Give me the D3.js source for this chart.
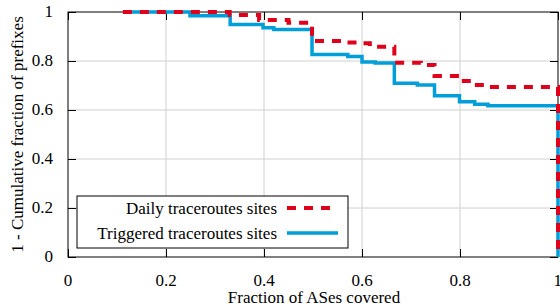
<!DOCTYPE html>
<html>
    <head>
        <meta charset="UTF-8"/>
        <style>
            body { margin: 0; background: #fff; }
        </style>
    </head>
    <body>
        <svg width="560" height="306"></svg>
        <script src="https://d3js.org/d3.v7.min.js" type="text/javascript"></script>
        <script>
            // step points (x = fraction of ASes, y = 1 - CDF)
            let dailyX = [0.112, 0.33, 0.39, 0.45, 0.498, 0.565, 0.596, 0.616, 0.666, 0.72, 0.748, 0.799, 0.83, 0.857, 1.0, 1.0];
            let dailyY = [1.0, 0.988, 0.967, 0.956, 0.882, 0.876, 0.872, 0.858, 0.793, 0.784, 0.739, 0.718, 0.702, 0.694, 0.694, 0];
            let trigX = [0.112, 0.249, 0.331, 0.398, 0.42, 0.498, 0.571, 0.6, 0.627, 0.666, 0.713, 0.748, 0.799, 0.83, 0.857, 1.0, 1.0];
            let trigY = [1.0, 0.985, 0.949, 0.936, 0.929, 0.827, 0.818, 0.796, 0.792, 0.709, 0.702, 0.658, 0.634, 0.623, 0.617, 0.617, 0];
            let xTicks = [0, 0.2, 0.4, 0.6, 0.8, 1];
            let yTicks = [0, 0.2, 0.4, 0.6, 0.8, 1];
            let seriesNames = ["Daily traceroutes sites", "Triggered traceroutes sites"];

            let fontFam = "'Times New Roman'";
            let fs = "17px";

            let svg = d3.select("svg"),
                margin = {left: 68, right: 2, top: 12, bottom: 49},
                width = +svg.attr("width") - margin.left - margin.right,
                height = +svg.attr("height") - margin.top - margin.bottom;

            let x = d3.scaleLinear().domain([0, 1]).range([0, width]);
            let y = d3.scaleLinear().domain([0, 1]).range([height, 0]);

            let g = svg.append("g").attr("transform", "translate(" + margin.left + "," + margin.top + ")");

            // grid
            g.selectAll(".gx").data(xTicks.slice(1, -1)).enter().append("line")
                .attr("x1", d => x(d)).attr("x2", d => x(d))
                .attr("y1", 0).attr("y2", height)
                .attr("stroke", "#d0d0d0").attr("stroke-width", 1);
            g.selectAll(".gy").data(yTicks.slice(1, -1)).enter().append("line")
                .attr("y1", d => y(d)).attr("y2", d => y(d))
                .attr("x1", 0).attr("x2", width)
                .attr("stroke", "#d0d0d0").attr("stroke-width", 1);

            // tick marks on all four sides, pointing inward
            let axBottom = g.append("g").attr("transform", "translate(0," + height + ")")
                .call(d3.axisBottom(x).tickValues(xTicks).tickFormat("").tickSizeInner(-8).tickSizeOuter(0));
            let axLeft = g.append("g")
                .call(d3.axisLeft(y).tickValues(yTicks).tickFormat("").tickSizeInner(-8).tickSizeOuter(0));
            let axTop = g.append("g")
                .call(d3.axisTop(x).tickValues(xTicks).tickFormat("").tickSizeInner(-8).tickSizeOuter(0));
            let axRight = g.append("g").attr("transform", "translate(" + width + ",0)")
                .call(d3.axisRight(y).tickValues(yTicks).tickFormat("").tickSizeInner(-8).tickSizeOuter(0));
            [axBottom, axLeft, axTop, axRight].forEach(a => {
                a.select(".domain").remove();
                a.selectAll("text").remove();
                a.selectAll("line").attr("stroke", "#000");
            });
            g.append("rect").attr("width", width).attr("height", height)
                .attr("fill", "none").attr("stroke", "#000").attr("stroke-width", 1);

            // tick labels as plain texts
            let fmt = d => d === 0 || d === 1 ? String(d) : d3.format(".1f")(d);
            g.selectAll(".xl").data(xTicks).enter().append("text")
                .attr("x", d => x(d) + (d === 1 ? 4 : 0)).attr("y", height + 29)
                .attr("text-anchor", d => d === 1 ? "end" : "middle")
                .style("font-family", fontFam).style("font-size", fs)
                .text(fmt);
            g.selectAll(".yl").data(yTicks).enter().append("text")
                .attr("x", -15).attr("y", d => y(d)).attr("dy", "0.32em")
                .attr("text-anchor", "end")
                .style("font-family", fontFam).style("font-size", fs)
                .text(fmt);

            // lines
            let line = d3.line().x(d => x(d[0])).y(d => y(d[1])).curve(d3.curveStepAfter);
            g.append("path").datum(d3.zip(trigX, trigY)).attr("d", line)
                .attr("fill", "none").attr("stroke", "#009fda").attr("stroke-width", 3.5);
            g.append("path").datum(d3.zip(dailyX, dailyY)).attr("d", line)
                .attr("fill", "none").attr("stroke", "#e0001b").attr("stroke-width", 4)
                .attr("stroke-dasharray", "9,8");

            // legend
            svg.append("rect").attr("x", 77).attr("y", 196).attr("width", 271).attr("height", 52)
                .attr("fill", "#fff").attr("stroke", "#000").attr("stroke-width", 1);
            let styles = [{c: "#e0001b", w: 4, dash: "9,8"}, {c: "#009fda", w: 3.5, dash: null}];
            seriesNames.forEach((name, i) => {
                let yy = 208 + i * 25;
                svg.append("text").attr("x", 277).attr("y", yy + 6)
                    .attr("text-anchor", "end")
                    .style("font-family", fontFam).style("font-size", fs).text(name);
                svg.append("line").attr("x1", 287).attr("x2", 338).attr("y1", yy).attr("y2", yy)
                    .attr("stroke", styles[i].c).attr("stroke-width", styles[i].w)
                    .attr("stroke-dasharray", styles[i].dash);
            });

            // axis titles
            svg.append("text").attr("x", 314).attr("y", 303)
                .attr("text-anchor", "middle")
                .style("font-family", fontFam).style("font-size", fs).text("Fraction of ASes covered");
            svg.append("text").attr("transform", "translate(23," + (margin.top + height / 2) + ") rotate(-90)")
                .attr("text-anchor", "middle")
                .style("font-family", fontFam).style("font-size", fs)
                .text("1 - Cumulative fraction of prefixes");
        </script>
    </body>
</html>
